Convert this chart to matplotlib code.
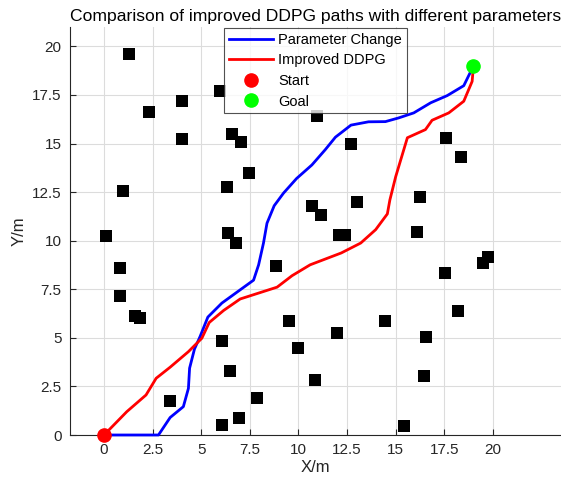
import matplotlib
matplotlib.use('Agg')
import matplotlib.pyplot as plt

plt.rcParams['font.family'] = ['Liberation Sans', 'DejaVu Sans']

# obstacle centres
obs_x = [1.3, 2.3, 4.0, 4.0, 5.95, 6.6, 7.05, 7.45, 0.95, 6.3, 0.1, 6.4, 6.8,
         8.85, 0.8, 0.8, 1.6, 1.85, 3.4, 6.05, 6.5, 7.85, 6.95, 6.05, 9.5,
         10.0, 10.7, 11.15, 13.0, 16.25, 12.1, 12.4, 16.1, 17.55, 19.5, 19.75,
         18.2, 14.45, 16.55, 12.0, 10.85, 16.45, 15.45, 10.95, 12.7, 17.6, 18.35]
obs_y = [19.6, 16.6, 17.2, 15.25, 17.7, 15.5, 15.1, 13.5, 12.55, 12.75, 10.25,
         10.4, 9.9, 8.7, 8.6, 7.15, 6.1, 6.0, 1.75, 4.85, 3.3, 1.9, 0.85, 0.5,
         5.85, 4.5, 11.8, 11.3, 12.0, 12.25, 10.3, 10.3, 10.45, 8.35, 8.85,
         9.15, 6.4, 5.85, 5.05, 5.25, 2.85, 3.05, 0.45, 16.4, 15.0, 15.3, 14.3]

# path with changed parameters
pc_x = [0, 2.8, 3.4, 4.08, 4.34, 4.4, 4.65, 4.94, 5.34, 6.06, 7.69, 7.95,
        8.2, 8.38, 8.75, 9.23, 9.9, 10.69, 11.38, 11.9, 12.7, 13.6, 14.47,
        15.15, 15.93, 16.8, 17.65, 18.5, 19.0]
pc_y = [0, 0, 0.9, 1.46, 2.4, 3.44, 4.42, 5.07, 6.07, 6.79, 7.97, 8.76,
        9.88, 10.9, 11.8, 12.45, 13.2, 13.9, 14.69, 15.33, 15.95, 16.12,
        16.13, 16.32, 16.58, 17.1, 17.47, 17.98, 19.0]

# improved DDPG path
dd_x = [0, 1.17, 2.16, 2.68, 3.4, 4.34, 5.03, 5.41, 6.15, 7.0, 8.9, 9.67,
        10.6, 12.2, 13.2, 13.97, 14.57, 14.7, 15.0, 15.6, 16.53, 16.87,
        17.73, 18.5, 18.93, 19.0]
dd_y = [0, 1.2, 2.06, 2.92, 3.49, 4.29, 4.98, 5.79, 6.41, 7.0, 7.61, 8.2,
        8.76, 9.37, 9.88, 10.57, 11.38, 12.1, 13.3, 15.3, 15.72, 16.2,
        16.58, 17.18, 18.2, 19.0]

start = (0, 0)
goal = (19, 19)
ticks = [0, 2.5, 5, 7.5, 10, 12.5, 15, 17.5, 20]
tick_labels = ['0', '2.5', '5', '7.5', '10', '12.5', '15', '17.5', '20']

fig = plt.figure(figsize=(5.61, 4.86), dpi=100)
ax = fig.add_axes([70 / 561, 51 / 486, 491 / 561, 408 / 486])

ax.plot(obs_x, obs_y, 's', color='black', markersize=8.2, mew=0, zorder=3,
        clip_on=False)
ax.plot(pc_x, pc_y, color=(0, 0, 1), lw=2, label='Parameter Change',
        zorder=4, clip_on=False)
ax.plot(dd_x, dd_y, color=(1, 0, 0), lw=2, label='Improved DDPG',
        zorder=4, clip_on=False)
ax.plot(*start, 'o', color=(1, 0, 0), markersize=9.5, label='Start',
        zorder=5, clip_on=False)
ax.plot(*goal, 'o', color=(0, 1, 0), markersize=9.5, label='Goal',
        zorder=5, clip_on=False)

ax.set_xlim(-1.75, 23.5)
ax.set_ylim(0, 21)
ax.set_xticks(ticks)
ax.set_xticklabels(tick_labels)
ax.set_yticks(ticks)
ax.set_yticklabels(tick_labels)

gray = '#262626'
for side in ['top', 'right']:
    ax.spines[side].set_visible(False)
for side in ['left', 'bottom']:
    ax.spines[side].set_color(gray)
    ax.spines[side].set_linewidth(0.8)
ax.tick_params(direction='in', length=4, width=0.8, colors=gray,
               labelsize=11, pad=6)
ax.grid(True, color='#dcdcdc', lw=0.8)
ax.set_axisbelow(True)

ax.set_title('Comparison of improved DDPG paths with different parameters',
             fontsize=12.6, color='black', pad=4)
ax.set_xlabel('X/m', fontsize=12, color=gray, labelpad=2)
ax.set_ylabel('Y/m', fontsize=12, color=gray)

leg = ax.legend(loc='upper center', fontsize=10.5, frameon=True,
                fancybox=False, borderaxespad=0.1, handlelength=3.0,
                handletextpad=0.4, labelspacing=0.45, borderpad=0.3)
leg.get_frame().set_edgecolor(gray)
leg.get_frame().set_linewidth(0.8)

fig.savefig('out.png', dpi=100)
